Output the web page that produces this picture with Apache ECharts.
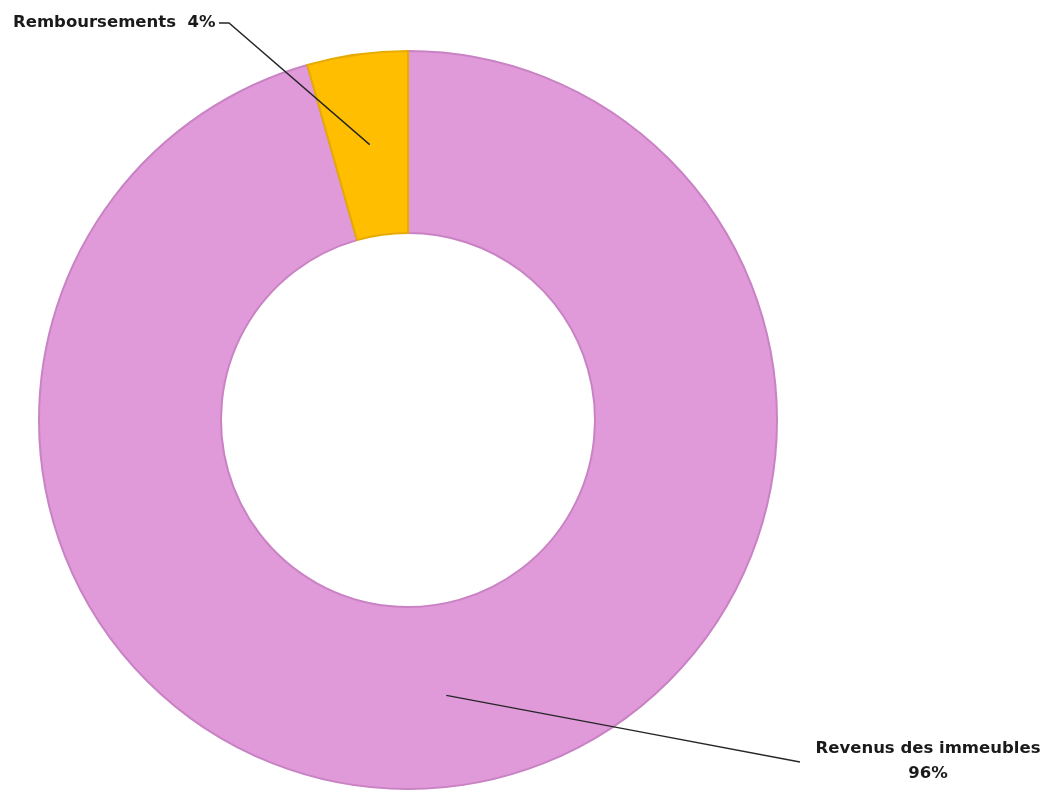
<!DOCTYPE html>
<html>
<head>
<meta charset="utf-8">
<script src="https://cdn.jsdelivr.net/npm/echarts@6/dist/echarts.min.js"></script>
<style>
html,body{margin:0;padding:0;background:#fff;}
#chart{width:1058px;height:790px;}
</style>
</head>
<body>
<div id="chart"></div>
<script>
const categories = ['Revenus des immeubles', 'Remboursements'];
const values = [95.6, 4.4];
const colors = ['#E09AD9', '#FFBF00'];
const borderColors = ['#C982C3', '#E6AA00'];

const center = [408, 420];
const radii = [187, 369];

// label anchor positions (layout only)
const labelPos = [
  {x: 928, y: 761, align: 'center', end: [800, 762], elbow: null},
  {x: 13, y: 23, align: 'left', end: [219, 23], elbow: [229, 23]}
];

const total = values.reduce((a, b) => a + b, 0);
function midPoint(i) {
  let acc = 0;
  for (let k = 0; k < i; k++) acc += values[k];
  const midFrac = (acc + values[i] / 2) / total;
  const ang = (90 - midFrac * 360) * Math.PI / 180;
  const r = (radii[0] + radii[1]) / 2;
  return [center[0] + r * Math.cos(ang), center[1] - r * Math.sin(ang)];
}

const chart = echarts.init(document.getElementById('chart'));
chart.setOption({
  animation: false,
  backgroundColor: '#ffffff',
  series: [{
    type: 'pie',
    z: 2,
    center: center,
    radius: radii,
    startAngle: 90,
    clockwise: true,
    silent: true,
    data: categories.map((c, i) => ({
      name: c,
      value: values[i],
      itemStyle: {color: colors[i], borderColor: borderColors[i], borderWidth: 2}
    })),
    label: {show: false},
    labelLine: {show: false}
  }, {
    type: 'pie',
    z: 5,
    center: center,
    radius: radii,
    startAngle: 90,
    clockwise: true,
    silent: true,
    avoidLabelOverlap: false,
    percentPrecision: 0,
    data: categories.map((c, i) => ({
      name: c,
      value: values[i],
      itemStyle: {color: 'rgba(0,0,0,0)', borderWidth: 0}
    })),
    label: {
      show: true,
      position: 'outside',
      fontFamily: 'DejaVu Sans',
      fontWeight: 'bold',
      fontSize: 16.5,
      color: '#1a1a1a',
      lineHeight: 25,
      formatter: function (p) {
        return p.dataIndex === 0 ? p.name + '\n' + p.percent + '%' : p.name + '  ' + p.percent + '%';
      }
    },
    labelLine: {show: true, smooth: false, length: 10, length2: 10, lineStyle: {color: '#262626', width: 1.4}},
    labelLayout: function (params) {
      const i = params.dataIndex;
      const lp = labelPos[i];
      const start = midPoint(i);
      const elbow = lp.elbow || [(start[0] + lp.end[0]) / 2, (start[1] + lp.end[1]) / 2];
      return {
        x: lp.x, y: lp.y, align: lp.align, verticalAlign: 'middle',
        labelLinePoints: [start, elbow, lp.end]
      };
    }
  }]
});
</script>
</body>
</html>
